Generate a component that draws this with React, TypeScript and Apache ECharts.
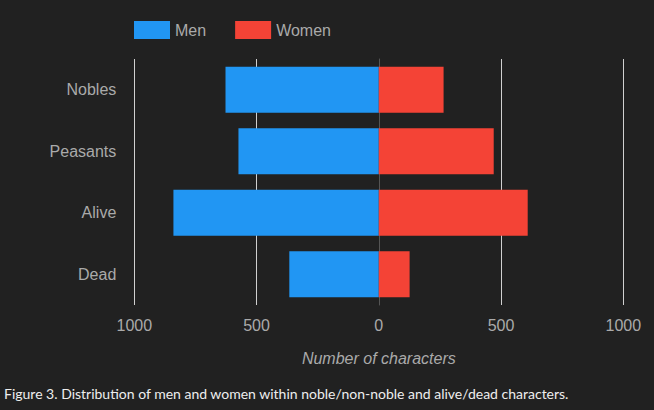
import React, { useEffect, useRef } from "react";
import * as echarts from "echarts";

const categories = ["Nobles", "Peasants", "Alive", "Dead"];
const menValues = [627, 574, 840, 366];
const womenValues = [265, 470, 609, 126];
const axisTicks = [-1000, -500, 0, 500, 1000];
const caption =
  "Figure 3. Distribution of men and women within noble/non-noble and alive/dead characters.";

const FONT = "Liberation Sans, Arial, sans-serif";

export default function App() {
  const ref = useRef<HTMLDivElement>(null);
  useEffect(() => {
    if (!ref.current) return;
    const chart = echarts.init(ref.current, null, { renderer: "svg" });
    const labelColor = "#aaaaaa";
    chart.setOption({
      animation: false,
      backgroundColor: "#212121",
      textStyle: { fontFamily: FONT },
      legend: {
        left: 129,
        top: 16,
        itemWidth: 36,
        itemHeight: 18,
        itemGap: 29,
        icon: "rect",
        textStyle: { color: labelColor, fontSize: 16, fontFamily: FONT },
        data: ["Men", "Women"],
      },
      grid: { left: 134.3, right: 30.7, top: 59, bottom: 105, containLabel: false },
      xAxis: {
        type: "value",
        min: axisTicks[0],
        max: axisTicks[axisTicks.length - 1],
        interval: 500,
        name: "Number of characters",
        nameLocation: "middle",
        nameGap: 45,
        nameTextStyle: {
          color: labelColor,
          fontSize: 16,
          fontStyle: "italic",
          fontFamily: FONT,
        },
        axisLine: { show: false },
        axisTick: { show: false },
        axisLabel: {
          color: labelColor,
          fontSize: 16,
          margin: 12,
          fontFamily: FONT,
          formatter: (v: number) => String(Math.abs(v)),
        },
        splitLine: {
          show: true,
          lineStyle: {
            color: ["#d0d0d0", "#d0d0d0", "#555555", "#d0d0d0", "#d0d0d0"],
            width: 1,
          },
        },
      },
      yAxis: {
        type: "category",
        inverse: true,
        data: categories,
        axisLine: { show: true, onZero: true, lineStyle: { color: "#555555" } },
        axisTick: { show: false },
        axisLabel: { color: labelColor, fontSize: 16, margin: 18, fontFamily: FONT },
        splitLine: { show: false },
      },
      series: [
        {
          name: "Men",
          type: "bar",
          stack: "total",
          barCategoryGap: "25%",
          itemStyle: { color: "#2196f3" },
          data: menValues.map((v) => -v),
        },
        {
          name: "Women",
          type: "bar",
          stack: "total",
          barCategoryGap: "25%",
          itemStyle: { color: "#f44336" },
          data: womenValues,
        },
      ],
      graphic: [
        {
          type: "text",
          left: 4,
          top: 386,
          style: {
            text: caption,
            fill: "#eeeeee",
            fontSize: 14,
            fontFamily: "Lato, sans-serif",
          },
        },
      ],
    });
    return () => chart.dispose();
  }, []);
  return (
    <div
      ref={ref}
      style={{ position: "fixed", left: 0, top: 0, width: 654, height: 410 }}
    />
  );
}
